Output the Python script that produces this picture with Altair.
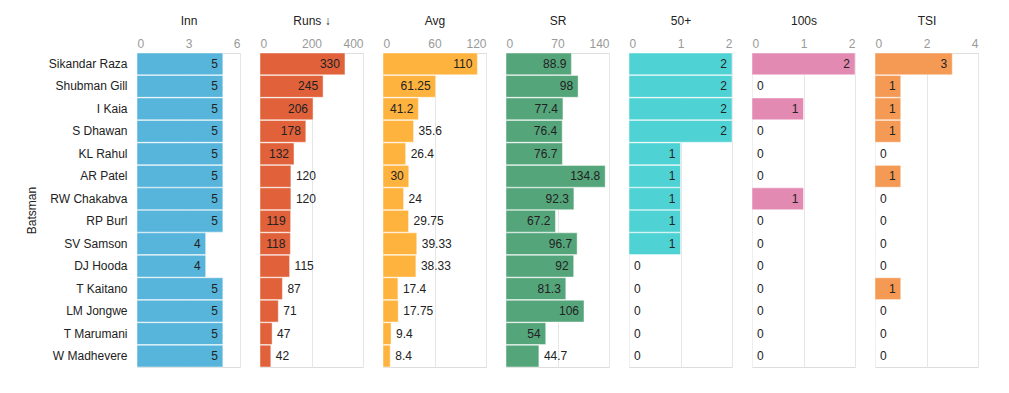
import altair as alt
import pandas as pd

batsmen = ["Sikandar Raza", "Shubman Gill", "I Kaia", "S Dhawan", "KL Rahul", "AR Patel",
           "RW Chakabva", "RP Burl", "SV Samson", "DJ Hooda", "T Kaitano", "LM Jongwe",
           "T Marumani", "W Madhevere"]
inn = [5, 5, 5, 5, 5, 5, 5, 5, 4, 4, 5, 5, 5, 5]
runs = [330, 245, 206, 178, 132, 120, 120, 119, 118, 115, 87, 71, 47, 42]
avg = [110, 61.25, 41.2, 35.6, 26.4, 30, 24, 29.75, 39.33, 38.33, 17.4, 17.75, 9.4, 8.4]
sr = [88.9, 98, 77.4, 76.4, 76.7, 134.8, 92.3, 67.2, 96.7, 92, 81.3, 106, 54, 44.7]
fifties = [2, 2, 2, 2, 1, 1, 1, 1, 1, 0, 0, 0, 0, 0]
hundreds = [2, 0, 1, 0, 0, 0, 1, 0, 0, 0, 0, 0, 0, 0]
tsi = [3, 1, 1, 1, 0, 1, 0, 0, 0, 0, 1, 0, 0, 0]

titles = ["Inn", "Runs \u2193", "Avg", "SR", "50+", "100s", "TSI"]
series = [inn, runs, avg, sr, fifties, hundreds, tsi]
maxima = [6, 400, 120, 140, 2, 2, 4]
ticks = [[0, 3, 6], [0, 200, 400], [0, 60, 120], [0, 70, 140], [0, 1, 2], [0, 1, 2], [0, 2, 4]]
colors = ["#57b5db", "#e0613a", "#ffb33f", "#55a57b", "#4fd2d4", "#e38ab3", "#f49a55"]

PW = 103
PH = 314

def text_w(s):
    w = 0
    for ch in s:
        if ch in "02":
            w += 7.5
        elif ch == ".":
            w += 3.33
        else:
            w += 6.67
    return w

panels = []
for i, (t, vals, mx, tv, col) in enumerate(zip(titles, series, maxima, ticks, colors)):
    labels = [f"{v:g}" for v in vals]
    inside = [v * PW / mx >= text_w(s) + 10 for v, s in zip(vals, labels)]
    df = pd.DataFrame({"Batsman": batsmen, "value": vals, "label": labels, "inside": inside})
    yenc = alt.Y("Batsman:N", sort=batsmen, title="Batsman" if i == 0 else None,
                 scale=alt.Scale(paddingInner=0.03, paddingOuter=0.0),
                 axis=alt.Axis(ticks=False, domain=False, labelPadding=10, labelFontSize=12,
                               labelColor="#222", titleFontSize=12, titleColor="#222",
                               titleFontWeight="normal", titlePadding=10) if i == 0 else None)
    xenc = alt.X("value:Q", title=t, scale=alt.Scale(domain=[0, mx], nice=False),
                 axis=alt.Axis(orient="top", values=tv, tickCount=len(tv),
                               labelExpr="'' + datum.value", labelOverlap=False,
                               ticks=False, domain=False,
                               labelColor="#999", labelFontSize=12, labelPadding=3,
                               titleFontSize=12, titleColor="#222", titleFontWeight="normal",
                               titlePadding=10, gridColor="#e6e6e6"))
    base = alt.Chart(df)
    bars = base.mark_bar(color=col, stroke="white", strokeWidth=1, strokeOpacity=0.45).encode(
        x=xenc, y=yenc)
    tin = base.transform_filter("datum.inside").mark_text(
        align="right", baseline="middle", dx=-5, fontSize=12, color="#222").encode(
        x="value:Q", y=alt.Y("Batsman:N", sort=batsmen), text="label:N")
    tout = base.transform_filter("!datum.inside").mark_text(
        align="left", baseline="middle", dx=5, fontSize=12, color="#222").encode(
        x="value:Q", y=alt.Y("Batsman:N", sort=batsmen), text="label:N")
    panels.append(alt.layer(bars, tin, tout).properties(width=PW, height=PH))

chart = alt.hconcat(*panels, spacing=18).configure_view(stroke=None).configure(
    font="Liberation Sans", padding={"left": 16, "top": 5, "right": 5, "bottom": 5})

chart.save("out.html", embed_options={"renderer": "svg", "actions": False})
